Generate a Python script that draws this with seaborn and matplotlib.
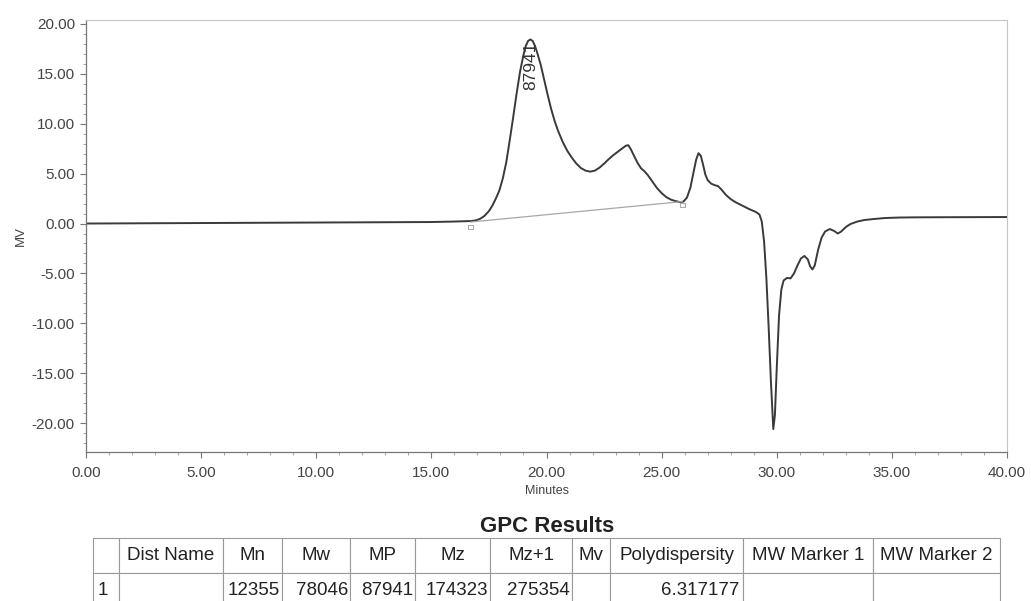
import numpy as np
import pandas as pd
import matplotlib
matplotlib.use("Agg")
import matplotlib.pyplot as plt
from matplotlib.ticker import MultipleLocator, FormatStrFormatter
import seaborn as sns

# ---------------- data ----------------
minutes = [0.0, 5.0, 10.0, 15.0, 16.0, 16.7, 16.9, 17.1, 17.3, 17.5, 17.65,
           17.8, 17.95, 18.1, 18.25, 18.4, 18.55, 18.7, 18.85, 19.0, 19.1,
           19.2, 19.3, 19.4, 19.5, 19.6, 19.75, 19.9, 20.05, 20.2, 20.35,
           20.5, 20.7, 20.9, 21.1, 21.3, 21.5, 21.7, 21.9, 22.1, 22.3, 22.5,
           22.7, 22.9, 23.1, 23.3, 23.45, 23.55, 23.65, 23.8, 23.95, 24.1,
           24.25, 24.4, 24.6, 24.8, 25.0, 25.2, 25.4, 25.6, 25.8, 25.95, 26.1,
           26.25, 26.4, 26.5, 26.6, 26.7, 26.8, 26.9, 27.0, 27.15, 27.3, 27.45,
           27.6, 27.8, 28.0, 28.2, 28.5, 28.8, 29.1, 29.25, 29.35, 29.45, 29.55,
           29.65, 29.75, 29.85, 29.92, 30.0, 30.1, 30.2, 30.3, 30.45, 30.6,
           30.75, 30.9, 31.05, 31.2, 31.35, 31.45, 31.55, 31.65, 31.8, 31.95,
           32.1, 32.3, 32.5, 32.65, 32.8, 33.0, 33.2, 33.5, 33.8, 34.2, 34.7,
           35.3, 36.0, 37.0, 38.5, 40.0]
mv = [0.0, 0.05, 0.1, 0.15, 0.2, 0.25, 0.3, 0.45, 0.75, 1.25, 1.8,
      2.5, 3.3, 4.5, 6.1, 8.3, 10.6, 13.0, 15.2, 16.9, 17.8,
      18.3, 18.45, 18.3, 17.8, 17.1, 15.9, 14.4, 12.9, 11.5, 10.3,
      9.3, 8.2, 7.3, 6.6, 6.0, 5.55, 5.3, 5.2, 5.3, 5.6, 6.0,
      6.45, 6.85, 7.2, 7.55, 7.8, 7.85, 7.5, 6.8, 6.1, 5.55,
      5.25, 4.85, 4.2, 3.55, 3.05, 2.65, 2.4, 2.25, 2.15, 2.2, 2.6,
      3.6, 5.3, 6.4, 7.05, 6.8, 5.9, 4.9, 4.35, 4.0, 3.85, 3.75,
      3.4, 2.85, 2.45, 2.15, 1.8, 1.45, 1.15, 0.9, 0.2, -1.8, -5.5,
      -10.5, -16.0, -20.6, -19.2, -14.5, -9.2, -6.6, -5.7, -5.45, -5.5,
      -5.0, -4.2, -3.5, -3.25, -3.6, -4.3, -4.6, -4.2, -2.6, -1.4,
      -0.8, -0.55, -0.75, -1.0, -0.8, -0.35, -0.05, 0.2, 0.35, 0.45, 0.55,
      0.6, 0.62, 0.63, 0.64, 0.65]

baseline_x = [16.7, 25.9]
baseline_y = [0.15, 2.2]
marker_x = [16.7, 25.9]
marker_y = [-0.35, 1.85]

peak_time = 19.3
peak_label = "87941"
peak_label_y = 15.8

table_title = "GPC Results"
col_labels = ["", "Dist Name", "Mn", "Mw", "MP", "Mz", "Mz+1", "Mv",
              "Polydispersity", "MW Marker 1", "MW Marker 2"]
row_values = ["1", "", "12355", "78046", "87941", "174323", "275354", "",
              "6.317177", "", ""]

# ---------------- style ----------------
sns.set_style("white")
plt.rcParams["font.family"] = ["Liberation Sans", "DejaVu Sans"]

W, H = 1031, 601
fig = plt.figure(figsize=(W / 100, H / 100), dpi=100)
ax = fig.add_axes([86 / W, (H - 452) / H, (1007 - 86) / W, (452 - 20) / H])

df = pd.DataFrame({"Minutes": minutes, "MV": mv})
sns.lineplot(data=df, x="Minutes", y="MV", sort=False, ax=ax,
             color="#3a3a3a", linewidth=1.4)
sns.lineplot(x=baseline_x, y=baseline_y, ax=ax, color="#a8a8a8",
             linewidth=0.9, sort=False)
ax.scatter(marker_x, marker_y, marker="s", s=10, facecolors="none",
           edgecolors="#999999", linewidths=0.6, zorder=3)

ax.text(peak_time, peak_label_y, peak_label, rotation=90,
        ha="center", va="center", fontsize=12.5, color="#333333")

ax.set_xlim(0, 40)
ax.set_ylim(-22.9, 20.4)
ax.xaxis.set_major_locator(MultipleLocator(5))
ax.xaxis.set_minor_locator(MultipleLocator(1))
ax.yaxis.set_major_locator(MultipleLocator(5))
ax.yaxis.set_minor_locator(MultipleLocator(1))
ax.xaxis.set_major_formatter(FormatStrFormatter("%.2f"))
ax.yaxis.set_major_formatter(FormatStrFormatter("%.2f"))

ax.tick_params(axis="both", which="major", labelsize=11, labelcolor="#444444",
               color="#777777", length=4, width=0.8, direction="out",
               left=True, bottom=True)
ax.tick_params(axis="both", which="minor", color="#999999", length=2.5,
               width=0.6, direction="out", left=True, bottom=True)
ax.tick_params(axis="x", which="major", pad=6)
ax.tick_params(axis="y", which="major", pad=4)

for s in ["left", "bottom"]:
    ax.spines[s].set_color("#777777")
    ax.spines[s].set_linewidth(0.9)
for s in ["top", "right"]:
    ax.spines[s].set_color("#c4c4c4")
    ax.spines[s].set_linewidth(0.8)

ax.set_xlabel("Minutes", fontsize=9, color="#444444", labelpad=4)
ax.set_ylabel("MV", fontsize=9.5, color="#444444")
ax.yaxis.set_label_coords(-(86 - 27) / (1007 - 86), 0.5)

# ---------------- results table ----------------
col_edges = [92.7, 119.3, 222.5, 282, 350, 415, 490, 572, 610, 743, 873, 1000]
tleft, tright = col_edges[0], col_edges[-1]
ttop, tbot = 538, 608
tax = fig.add_axes([tleft / W, (H - tbot) / H, (tright - tleft) / W,
                    (tbot - ttop) / H])
tax.axis("off")
widths = np.diff(col_edges) / (tright - tleft)
tbl = tax.table(cellText=[row_values], colLabels=col_labels,
                colWidths=list(widths), bbox=[0, 0, 1, 1],
                cellLoc="center")
tbl.auto_set_font_size(False)
for (r, c), cell in tbl.get_celld().items():
    cell.set_edgecolor("#9a9a9a")
    cell.set_linewidth(0.8)
    cell.get_text().set_fontsize(13.5)
    cell.get_text().set_color("#222222")
    cell.PAD = 0.03
    if r == 1:
        if c == 0:
            cell._loc = "left"
            cell.get_text().set_ha("left")
            cell.PAD = 0.2
        else:
            cell._loc = "right"
            cell.get_text().set_ha("right")

fig.text(547 / W, 1 - 526 / H, table_title, ha="center", va="center",
         fontsize=16, fontweight="bold", color="#222222")

fig.savefig("out.png", dpi=100, facecolor="white")
